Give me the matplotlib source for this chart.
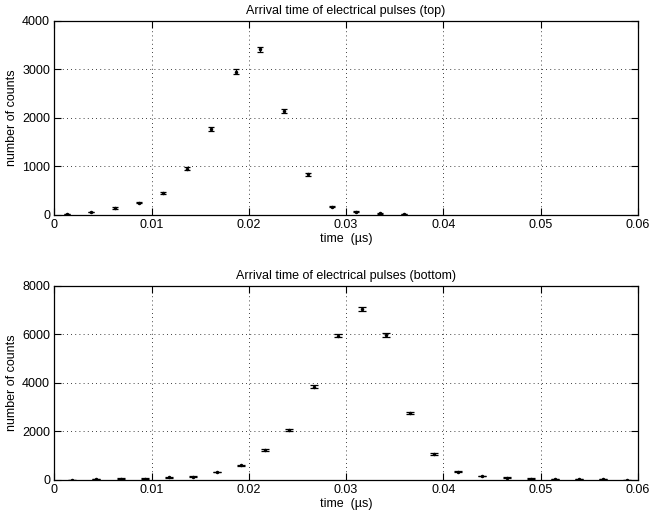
import matplotlib
matplotlib.use("Agg")
import matplotlib.pyplot as plt

plt.rcParams['font.family'] = ['Liberation Sans', 'DejaVu Sans']
plt.rcParams['font.size'] = 9

# arrival time histograms (time in microseconds)
top_time = [0.00127, 0.00375, 0.00623, 0.00871, 0.01119, 0.01367, 0.01615, 0.01863,
            0.02111, 0.02359, 0.02607, 0.02855, 0.03103, 0.03351, 0.03599]
top_counts = [15, 60, 145, 255, 455, 955, 1770, 2955, 3415, 2140, 838, 172, 69, 35, 18]
top_err = [4, 8, 12, 16, 21, 31, 42, 54, 58, 46, 29, 13, 8, 6, 4]

bottom_time = [0.00185, 0.00433, 0.00681, 0.00929, 0.01177, 0.01425, 0.01673, 0.01921,
               0.02169, 0.02417, 0.02665, 0.02913, 0.03161, 0.03409, 0.03657, 0.03905,
               0.04153, 0.04401, 0.04649, 0.04897, 0.05145, 0.05393, 0.05641, 0.05889]
bottom_counts = [10, 40, 55, 55, 110, 140, 330, 605, 1223, 2075, 3835, 5952,
                 7052, 5966, 2763, 1072, 344, 165, 96, 55, 40, 40, 25, 15]
bottom_err = [3, 6, 7, 7, 10, 12, 18, 25, 35, 46, 62, 77, 84, 77, 53, 33,
              19, 13, 10, 7, 6, 6, 5, 4]

x_ticks = [0, 0.01, 0.02, 0.03, 0.04, 0.05, 0.06]
x_tick_labels = ["0", "0.01", "0.02", "0.03", "0.04", "0.05", "0.06"]
top_y_ticks = [0, 1000, 2000, 3000, 4000]
bottom_y_ticks = [0, 2000, 4000, 6000, 8000]

fig = plt.figure(figsize=(6.5, 5.18), dpi=100)
ax_top = fig.add_axes([0.0835, 0.585, 0.898, 0.3745])
ax_bot = fig.add_axes([0.0835, 0.0734, 0.898, 0.3746])


def style_axes(ax, yticks, ymax, title):
    ax.set_xlim(0, 0.06)
    ax.set_ylim(0, ymax)
    ax.set_xticks(x_ticks)
    ax.set_xticklabels(x_tick_labels)
    ax.set_yticks(yticks)
    ax.set_yticklabels([str(v) for v in yticks])
    ax.grid(True, linestyle=(0, (1, 4)), color='k', linewidth=0.6)
    ax.tick_params(direction='in', length=5, width=0.8, top=True, right=True,
                   labelsize=9, pad=3)
    for sp in ax.spines.values():
        sp.set_linewidth(0.9)
    ax.set_xlabel("time  (\u00b5s)", labelpad=1)
    ax.set_ylabel("number of counts", labelpad=3)
    ax.set_title(title, fontsize=9, pad=5)


ax_top.errorbar(top_time, top_counts, yerr=top_err, fmt='.', color='k',
                markersize=3, elinewidth=0.9, capsize=2.3, capthick=0.9)
style_axes(ax_top, top_y_ticks, 4000, "Arrival time of electrical pulses (top)")

ax_bot.errorbar(bottom_time, bottom_counts, yerr=bottom_err, fmt='.', color='k',
                markersize=3, elinewidth=0.9, capsize=3.2, capthick=0.9)
style_axes(ax_bot, bottom_y_ticks, 8000, "Arrival time of electrical pulses (bottom)")

fig.savefig("out.png", dpi=100)
